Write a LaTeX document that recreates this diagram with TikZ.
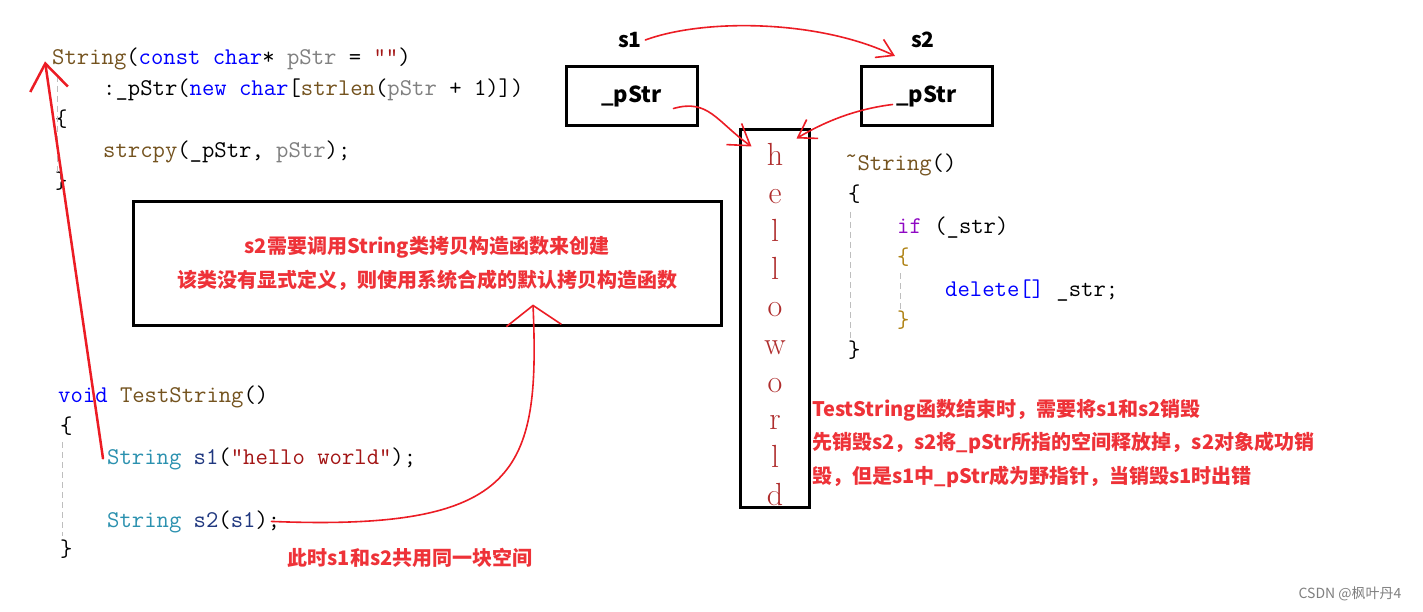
\documentclass[tikz,border=0pt]{standalone}
\usepackage{fontspec}
\usepackage{xcolor}
\usepackage{tikz}
\usetikzlibrary{arrows.meta}
\newfontfamily\cjk{Noto Sans CJK SC}

\definecolor{cfnbrown}{RGB}{116,83,31}
\definecolor{ckwblue}{RGB}{0,0,255}
\definecolor{ctyteal}{RGB}{43,145,175}
\definecolor{cpagray}{RGB}{128,128,128}
\definecolor{clvnavy}{RGB}{31,55,127}
\definecolor{cstrred}{RGB}{163,21,21}
\definecolor{cctlpurple}{RGB}{143,8,196}
\definecolor{cbrgold}{RGB}{175,130,20}
\definecolor{letterred}{RGB}{175,45,45}
\definecolor{penred}{RGB}{236,28,36}
\definecolor{notered}{RGB}{238,50,56}
\definecolor{guidegray}{RGB}{190,190,190}

\newcommand{\codefont}{\ttfamily\fontsize{24}{28}\selectfont}
\newcommand{\notefont}{\cjk\bfseries\fontsize{20}{33.5}\selectfont}
\newcommand{\cfn}[1]{\textcolor{cfnbrown}{#1}}
\newcommand{\ckw}[1]{\textcolor{ckwblue}{#1}}
\newcommand{\cty}[1]{\textcolor{ctyteal}{#1}}
\newcommand{\cpa}[1]{\textcolor{cpagray}{#1}}
\newcommand{\clv}[1]{\textcolor{clvnavy}{#1}}
\newcommand{\cstr}[1]{\textcolor{cstrred}{#1}}
\newcommand{\cctl}[1]{\textcolor{cctlpurple}{#1}}

\begin{document}
\begin{tikzpicture}[x=1pt, y=-1pt,
    code/.style={anchor=base west, inner sep=0pt, font=\codefont},
    mem/.style={draw, line width=3pt, minimum width=131pt, minimum height=59pt, font=\cjk\bfseries\fontsize{22}{22}\selectfont},
    var/.style={font=\cjk\bfseries\fontsize{21}{21}\selectfont},
    letter/.style={anchor=base, inner sep=0pt, text=letterred, font=\rmfamily\fontsize{32}{32}\selectfont},
    note/.style={text=notered, inner sep=0pt, font=\notefont},
    pen/.style={draw=penred, line width=1.6pt, line cap=round, line join=round},
    guide/.style={draw=guidegray, line width=1pt, dash pattern=on 6pt off 4pt}]

    \useasboundingbox[fill=white] (0,0) rectangle (1423,612);

    % --- copy constructor ---
    \node[code] (ctor) at (52,65) {\cfn{String}(\ckw{const char}* \cpa{pStr} = \cstr{""})};
    \node[code] (init) at (103,96) {:\_pStr(\ckw{new char}[\cfn{strlen}(\cpa{pStr} + 1)])};
    \node[code] (ob1) at (55,127) {\{};
    \node[code] (cpy) at (103,158) {\cfn{strcpy}(\_pStr, \cpa{pStr});};
    \node[code] (cb1) at (55,189) {\}};
    \draw[guide] (57,76) -- (57,172);

    % --- destructor ---
    \node[code] (dtor) at (845,171) {\cfn{\raisebox{7pt}{\textasciitilde}String}()};
    \node[code] (ob2) at (848,202) {\{};
    \node[code] (iff) at (897,234) {\cctl{if} (\_str)};
    \node[code, text=cbrgold] (ob3) at (897,265) {\{};
    \node[code] (del) at (945,296) {\ckw{delete[]} \_str;};
    \node[code, text=cbrgold] (cb3) at (897,327) {\}};
    \node[code] (cb2) at (848,357) {\}};
    \draw[guide] (850,212) -- (850,340);
    \draw[guide] (900,273) -- (900,312);

    % --- test function ---
    \node[code] (test) at (58,402) {\ckw{void} \cfn{TestString}()};
    \node[code] (ob4) at (60,433) {\{};
    \node[code] (ln1) at (107,464) {\cty{String} \clv{s1}(\cstr{"hello world"});};
    \node[code] (ln2) at (107,527) {\cty{String} \clv{s2}(\clv{s1});};
    \node[code] (cb4) at (60,556) {\}};
    \draw[guide] (62,442) -- (62,536);

    % --- objects and heap ---
    \node[var] (s1) at (630,40) {s1};
    \node[var] (s2) at (923,40) {s2};
    \node[mem] (ps1) at (631.5,96.5) {\_pStr};
    \node[mem] (ps2) at (926.5,96.5) {\_pStr};
    \node[draw, line width=3pt, minimum width=69pt, minimum height=377pt] (hello) at (774.5,318.5) {};
    \foreach \c [count=\i from 0] in {h,e,l,l,o,w,o,r,l,d}
        \node[letter] (c\i) at (775,166+37.7*\i) {\c};

    % --- notes ---
    \node[draw, line width=3pt, minimum width=588pt, minimum height=123pt, note, align=center] (notebox) at (427,263.5)
        {s2需要调用String类拷贝构造函数来创建\\该类没有显式定义，则使用系统合成的默认拷贝构造函数};
    \node[note, anchor=north west, align=left] (endnote) at (812,399)
        {TestString函数结束时，需要将s1和s2销毁\\先销毁s2，s2将\_pStr所指的空间释放掉，s2对象成功销\\毁，但是s1中\_pStr成为野指针，当销毁s1时出错};
    \node[note] (sharenote) at (410,558) {此时s1和s2共用同一块空间};
    \node[text=gray, font=\cjk\fontsize{14}{14}\selectfont] (mark) at (1350,594) {CSDN @枫叶丹4};

    % --- red pen ---
    \draw[pen, -{Straight Barb[length=16pt,width=20pt]}] (s1.east)
        .. controls +(60,-22) and +(-75,-36) .. ([xshift=-28pt,yshift=-16pt]s2.center);
    \draw[pen, -{Straight Barb[length=20pt,width=26pt]}] ([xshift=42pt,yshift=-12pt]ps1.center)
        .. controls +(35,-10) and +(-35,-25) .. ([xshift=13pt,yshift=-18pt]hello.north west);
    \draw[pen, -{Straight Barb[length=17pt,width=22pt]}] ([xshift=-34pt,yshift=-8pt]ps2.center)
        .. controls +(-40,5) and +(25,-15) .. ([xshift=-14pt,yshift=-10pt]hello.north east);
    \draw[pen, line width=2.5pt, -{Straight Barb[length=26pt,width=38pt]}] ([xshift=-4pt]ln1.west)
        -- ([xshift=-7pt,yshift=-2pt]ctor.west);
    \draw[pen, -{Straight Barb[length=20pt,width=55pt]}] ([xshift=-9pt]ln2.east)
        .. controls +(248,10) and +(7,167) .. ([xshift=106pt,yshift=22pt]notebox.south);
\end{tikzpicture}
\end{document}
